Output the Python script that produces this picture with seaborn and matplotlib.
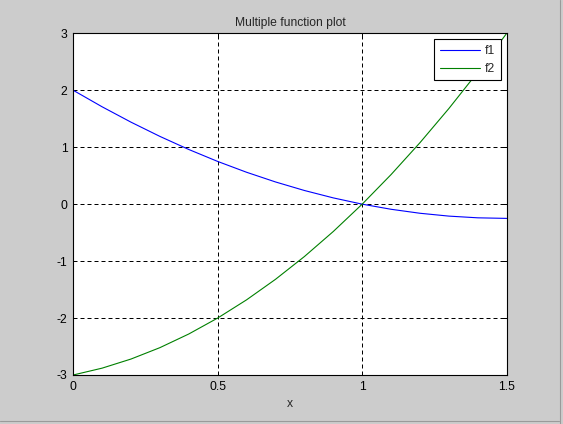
import numpy as np
import pandas as pd
import matplotlib
matplotlib.use("Agg")
import matplotlib.pyplot as plt
import seaborn as sns
from matplotlib.lines import Line2D
from matplotlib.ticker import FixedLocator, FixedFormatter

# ── Data (0.1 steps) ──────────────────────────────────────────────────────────
x_vals = [0.0, 0.1, 0.2, 0.3, 0.4, 0.5, 0.6, 0.7, 0.8, 0.9,
          1.0, 1.1, 1.2, 1.3, 1.4, 1.5]
f1_vals = [2.00, 1.71, 1.44, 1.19, 0.96, 0.75, 0.56, 0.39, 0.24, 0.11,
           0.00, -0.09, -0.16, -0.21, -0.24, -0.25]
f2_vals = [-3.00, -2.88, -2.72, -2.52, -2.28, -2.00, -1.68, -1.32, -0.92, -0.48,
           0.00, 0.52, 1.08, 1.68, 2.32, 3.00]
series_names = ["f1", "f2"]
x_ticks = [0, 0.5, 1, 1.5]
x_tick_labels = ["0", "0.5", "1", "1.5"]
y_ticks = [-3, -2, -1, 0, 1, 2, 3]
y_tick_labels = ["-3", "-2", "-1", "0", "1", "2", "3"]

df = pd.DataFrame({
    "x": x_vals * 2,
    "y": f1_vals + f2_vals,
    "name": [series_names[0]] * len(x_vals) + [series_names[1]] * len(x_vals),
})

# ── Style ─────────────────────────────────────────────────────────────────────
sns.set_style("white")
plt.rcParams["font.family"] = ["Liberation Sans", "DejaVu Sans"]
plt.rcParams["font.size"] = 8.7

fig = plt.figure(figsize=(5.63, 4.24), dpi=100, facecolor="#cccccc")
ax = fig.add_axes([0.13, 0.1156, 0.77, 0.8058])
ax.set_facecolor("white")

sns.lineplot(data=df, x="x", y="y", hue="name", palette=["#0000ff", "#008000"],
             estimator=None, sort=False, linewidth=0.8, ax=ax, legend=False)

ax.set_xlim(0, 1.5)
ax.set_ylim(-3, 3)
ax.xaxis.set_major_locator(FixedLocator(x_ticks))
ax.xaxis.set_major_formatter(FixedFormatter(x_tick_labels))
ax.yaxis.set_major_locator(FixedLocator(y_ticks))
ax.yaxis.set_major_formatter(FixedFormatter(y_tick_labels))

ax.grid(True, color="black", linestyle=(0, (4, 3)), linewidth=0.72)
ax.tick_params(direction="in", length=3, width=0.72, colors="black",
               labelsize=8.7, pad=4, top=True, right=True)
for sp in ax.spines.values():
    sp.set_visible(True)
    sp.set_color("black")
    sp.set_linewidth(0.8)

ax.set_title("Multiple function plot", fontsize=8.7, pad=5)
ax.set_xlabel("x", fontsize=8.7, labelpad=4)
ax.set_ylabel("")

leg = ax.legend(ax.get_lines()[:2], series_names, loc="upper right",
                fontsize=8.7, handlelength=3.3, handletextpad=0.45,
                labelspacing=0.5, borderpad=0.45, borderaxespad=0.5,
                fancybox=False, framealpha=1, edgecolor="black")
leg.get_frame().set_linewidth(0.8)

# window frame edges seen in the screenshot
W, H = 563, 424
fig.add_artist(Line2D([559.5 / W, 559.5 / W], [0, 1], transform=fig.transFigure,
                      color="#9a9a9a", linewidth=0.8))
fig.add_artist(Line2D([0, 559 / W], [1 - 420.5 / H, 1 - 420.5 / H],
                      transform=fig.transFigure, color="#9a9a9a", linewidth=0.8))

fig.savefig("out.png", dpi=100, facecolor=fig.get_facecolor())
